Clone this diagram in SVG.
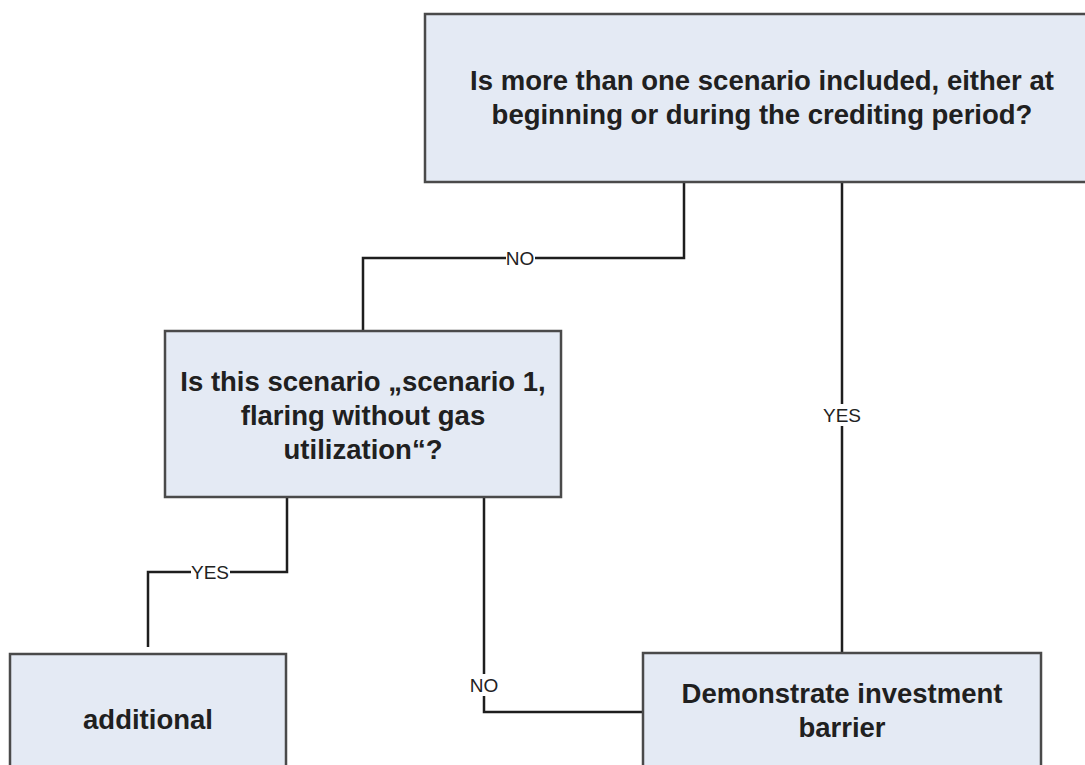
<svg xmlns="http://www.w3.org/2000/svg" width="1085" height="765" viewBox="0 0 1085 765">
<style>
.box{fill:#e4eaf4;stroke:#4a4a4a;stroke-width:2.5}
.t{font-family:"Liberation Sans",Arial,sans-serif;font-weight:bold;font-size:27.5px;fill:#202020;text-anchor:middle}
.c{fill:none;stroke:#1e1e1e;stroke-width:2.5}
.l{font-family:"Liberation Sans",Arial,sans-serif;font-size:19px;fill:#222;text-anchor:middle}
.bg{fill:#fff}
</style>
<rect width="1085" height="765" fill="#fff"/>
<g id="connectors">
<polyline class="c" points="684,182 684,258 363,258 363,331"/>
<rect class="bg" x="506" y="249" width="29" height="18"/>
<text class="l" x="520" y="265">NO</text>
<polyline class="c" points="842,182 842,653"/>
<rect class="bg" x="822" y="404" width="40" height="22"/>
<text class="l" x="842" y="422">YES</text>
<polyline class="c" points="287,497 287,572 148,572 148,647"/>
<rect class="bg" x="191" y="563" width="39" height="18"/>
<text class="l" x="210" y="579">YES</text>
<polyline class="c" points="484,497 484,712 643,712"/>
<rect class="bg" x="469" y="674" width="30" height="22"/>
<text class="l" x="484" y="692">NO</text>
</g>
<g id="n1">
<rect class="box" x="425" y="14" width="680" height="168"/>
<text class="t" x="762" y="90">Is more than one scenario included, either at</text>
<text class="t" x="762" y="124">beginning or during the crediting period?</text>
</g>
<g id="n2">
<rect class="box" x="165" y="331" width="396" height="166"/>
<text class="t" x="363" y="391">Is this scenario „scenario 1,</text>
<text class="t" x="363" y="425">flaring without gas</text>
<text class="t" x="363" y="459">utilization“?</text>
</g>
<g id="n3">
<rect class="box" x="10" y="654" width="276" height="130"/>
<text class="t" x="148" y="729">additional</text>
</g>
<g id="n4">
<rect class="box" x="643" y="653" width="398" height="130"/>
<text class="t" x="842" y="703">Demonstrate investment</text>
<text class="t" x="842" y="737">barrier</text>
</g>
</svg>
